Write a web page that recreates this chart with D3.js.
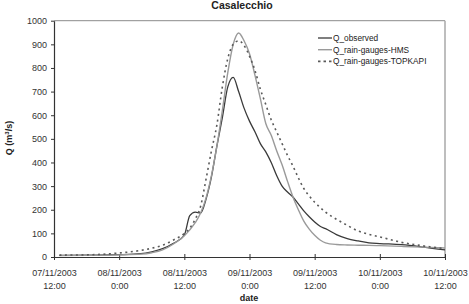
<!DOCTYPE html>
<html>
<head>
<meta charset="utf-8">
<script src="https://cdnjs.cloudflare.com/ajax/libs/d3/7.8.5/d3.min.js"></script>
<style>
  body { margin: 0; background: #fff; }
  svg { font-family: "Liberation Sans", Arial, sans-serif; }
</style>
</head>
<body>
<svg width="469" height="304"></svg>
<script>
// hours after 07/11/2003 12:00
var hours = [1, 6, 12, 16, 18, 20, 22, 24, 25, 26, 27, 28, 29, 30, 31, 32, 33, 34, 35, 36, 37, 38, 39, 40,
             41, 42, 43, 44, 45, 46, 47, 48, 49, 50, 52, 54, 56, 58, 60, 64, 68, 72];

var qObserved = [7, 8, 10, 14, 22, 35, 58, 93, 175, 190, 186, 245, 340, 470, 590, 720, 760, 700, 630, 575,
                 530, 480, 445, 400, 345, 300, 275, 254, 225, 195, 170, 148, 130, 120, 95, 78, 68, 60, 57, 52, 42, 30];

var qHMS = [6, 7, 9, 12, 18, 30, 55, 90, 115, 145, 186, 250, 345, 470, 620, 780, 900, 948, 915, 860,
            770, 670, 565, 515, 450, 390, 320, 254, 200, 152, 118, 92, 72, 60, 53, 51, 50, 49, 48, 45, 42, 38];

var qTopkapi = [8, 9, 17, 28, 37, 50, 72, 100, 122, 160, 215, 330, 450, 560, 720, 840, 900, 915, 895, 850,
                790, 710, 645, 580, 530, 480, 430, 385, 335, 290, 258, 232, 210, 190, 160, 134, 110, 96, 85, 62, 47, 35];

var seriesNames = ["Q_observed", "Q_rain-gauges-HMS", "Q_rain-gauges-TOPKAPI"];
var yTicks = [0, 100, 200, 300, 400, 500, 600, 700, 800, 900, 1000];
var xTickHours = [0, 12, 24, 36, 48, 60, 72];

var start = new Date(2003, 10, 7, 12, 0);
function toDate(h) { return d3.timeHour.offset(start, h); }

var svg = d3.select("svg");
var mLeft = 54, mRight = 445, mTop = 20.7, mBottom = 257;

var x = d3.scaleTime().domain([toDate(0), toDate(72)]).range([mLeft, mRight]);
var y = d3.scaleLinear().domain([0, 1000]).range([mBottom, mTop]);

// plot frame (top and right)
svg.append("line").attr("x1", mLeft).attr("x2", mRight).attr("y1", mTop).attr("y2", mTop)
   .attr("stroke", "#8c8c8c").attr("stroke-width", 1);
svg.append("line").attr("x1", mRight).attr("x2", mRight).attr("y1", mTop).attr("y2", mBottom)
   .attr("stroke", "#a8a8a8").attr("stroke-width", 1.5);

// y axis
var gy = svg.append("g").attr("transform", "translate(" + mLeft + ",0)")
   .call(d3.axisLeft(y).tickValues(yTicks).tickFormat(d3.format("d"))
         .tickSize(3).tickSizeOuter(0).tickPadding(4));
gy.select(".domain").attr("stroke", "#333").attr("stroke-width", 1.2);
gy.selectAll(".tick line").attr("stroke", "#333");
gy.selectAll("text").attr("font-size", 9).attr("fill", "#333")
   .style("font-family", "'Liberation Sans', Arial, sans-serif");

// x axis
var fmtDay = d3.timeFormat("%d/%m/%Y"), fmtHour = d3.timeFormat("%-H:%M");
var gx = svg.append("g").attr("transform", "translate(0," + mBottom + ")")
   .call(d3.axisBottom(x).tickValues(xTickHours.map(toDate)).tickSize(3).tickSizeOuter(0).tickFormat(""));
gx.select(".domain").attr("stroke", "#333").attr("stroke-width", 1.2);
gx.selectAll(".tick line").attr("stroke", "#333").attr("y1", -3).attr("y2", 3);
gx.selectAll(".tick text").remove();
gx.selectAll(".tick").each(function(d) {
  var t = d3.select(this).append("text").attr("text-anchor", "middle")
     .attr("font-size", 9).attr("fill", "#333")
     .style("font-family", "'Liberation Sans', Arial, sans-serif");
  t.append("tspan").attr("x", 0).attr("y", 19).text(fmtDay(d));
  t.append("tspan").attr("x", 0).attr("y", 31.5).text(fmtHour(d));
});

// titles
svg.append("text").attr("x", 242).attr("y", 9).attr("text-anchor", "middle")
   .attr("font-size", 10.5).attr("font-weight", "bold").attr("fill", "#222").text("Casalecchio");
svg.append("text").attr("x", 249).attr("y", 301).attr("text-anchor", "middle")
   .attr("font-size", 9).attr("font-weight", "bold").attr("fill", "#222").text("date");
var yl = svg.append("text").attr("transform", "translate(12,138) rotate(-90)")
   .attr("text-anchor", "middle").attr("font-size", 9).attr("font-weight", "bold").attr("fill", "#222");
yl.append("tspan").text("Q  (m");
yl.append("tspan").attr("font-size", 6).attr("dy", -3).text("3");
yl.append("tspan").attr("dy", 3).text("/s)");

// lines
var styles = [
  { data: qObserved, color: "#3a3a3a", width: 1.3, dash: null },
  { data: qHMS, color: "#9a9a9a", width: 1.4, dash: null },
  { data: qTopkapi, color: "#5a5a5a", width: 1.6, dash: "2,3.5" }
];

var line = d3.line()
  .x(function(d) { return x(toDate(d[0])); })
  .y(function(d) { return y(d[1]); })
  .curve(d3.curveMonotoneX);

styles.forEach(function(s) {
  svg.append("path")
    .datum(hours.map(function(h, i) { return [h, s.data[i]]; }))
    .attr("fill", "none").attr("stroke", s.color).attr("stroke-width", s.width)
    .attr("stroke-dasharray", s.dash)
    .attr("d", line);
});

// legend
var lg = svg.append("g").attr("transform", "translate(318,38)");
seriesNames.forEach(function(name, i) {
  var s = styles[i];
  lg.append("line").attr("x1", 0).attr("x2", 14).attr("y1", i * 11.7).attr("y2", i * 11.7)
    .attr("stroke", s.color).attr("stroke-width", s.width)
    .attr("stroke-dasharray", s.dash ? "2.5,3" : null);
  lg.append("text").attr("x", 15).attr("y", i * 11.7 + 3).attr("font-size", 8.3).attr("fill", "#222")
    .text(name);
});
</script>
</body>
</html>
